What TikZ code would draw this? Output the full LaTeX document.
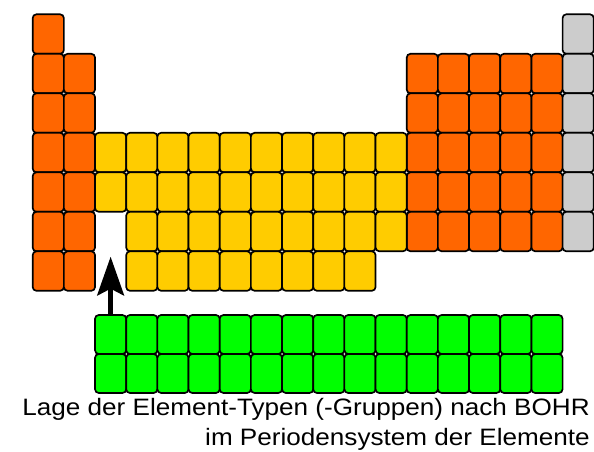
\documentclass[tikz,border=0pt]{standalone}
\usepackage{fontspec}
\newfontfamily\capfont[FakeStretch=1.10]{Liberation Sans}
\usetikzlibrary{arrows.meta}
\definecolor{cOrange}{HTML}{FF6600}
\definecolor{cYellow}{HTML}{FFCC00}
\definecolor{cGray}{HTML}{CCCCCC}
\definecolor{cGreen}{HTML}{00FF00}
\tikzset{
  cell/.style={draw=black, line width=1.25pt, rounded corners=2.8pt, inner sep=0pt,
    minimum width=23.38pt, minimum height=29.62pt},
  orangecell/.style={cell, fill=cOrange},
  yellowcell/.style={cell, fill=cYellow},
  graycell/.style={cell, fill=cGray},
  greencell/.style={cell, fill=cGreen, minimum height=29.25pt},
  bigarrow/.style={line width=3.8pt, -{Stealth[length=29pt, width=20pt, inset=5pt]}},
  caption/.style={font=\capfont\fontsize{17.8pt}{23pt}\selectfont, inner sep=0pt, anchor=base east}
}
\begin{document}
\begin{tikzpicture}[x=0.75pt, y=-0.75pt]
\useasboundingbox (0,0) rectangle (594,452);
% orange (alkali / alkaline earth)
\foreach \c/\r in {1/1,1/2,1/3,1/4,1/5,1/6,1/7,2/2,2/3,2/4,2/5,2/6,2/7}
  \node[orangecell] (o-\c-\r) at ({32.7+(\c-0.5)*31.17},{14.3+(\r-0.5)*39.5}) {};
% orange (p block)
\foreach \c in {13,...,17}
  \foreach \r in {2,...,6}
    \node[orangecell] (o-\c-\r) at ({32.7+(\c-0.5)*31.17},{14.3+(\r-0.5)*39.5}) {};
% gray (noble gases)
\foreach \r in {1,...,6}
  \node[graycell] (n-18-\r) at ({32.7+(18-0.5)*31.17},{14.3+(\r-0.5)*39.5}) {};
% yellow (transition metals)
\foreach \c in {3,...,12}
  \foreach \r in {4,5}
    \node[yellowcell] (y-\c-\r) at ({32.7+(\c-0.5)*31.17},{14.3+(\r-0.5)*39.5}) {};
\foreach \c in {4,...,12}
  \node[yellowcell] (y-\c-6) at ({32.7+(\c-0.5)*31.17},{14.3+(6-0.5)*39.5}) {};
\foreach \c in {4,...,11}
  \node[yellowcell] (y-\c-7) at ({32.7+(\c-0.5)*31.17},{14.3+(7-0.5)*39.5}) {};
% green (lanthanides / actinides)
\foreach \c in {3,...,17}
  \foreach \r/\yy in {1/334.5,2/373.5}
    \node[greencell] (g-\c-\r) at ({32.7+(\c-0.5)*31.17},\yy) {};
% arrow
\coordinate (tip) at ({32.7+2.5*31.17},256.7);
\draw[bigarrow] (g-3-1.north) -- (tip);
% caption
\node[caption] (t1) at (590,416) {Lage der Element-Typen (-Gruppen) nach BOHR};
\node[caption] (t2) at (590,445.5) {im Periodensystem der Elemente};
\end{tikzpicture}
\end{document}
